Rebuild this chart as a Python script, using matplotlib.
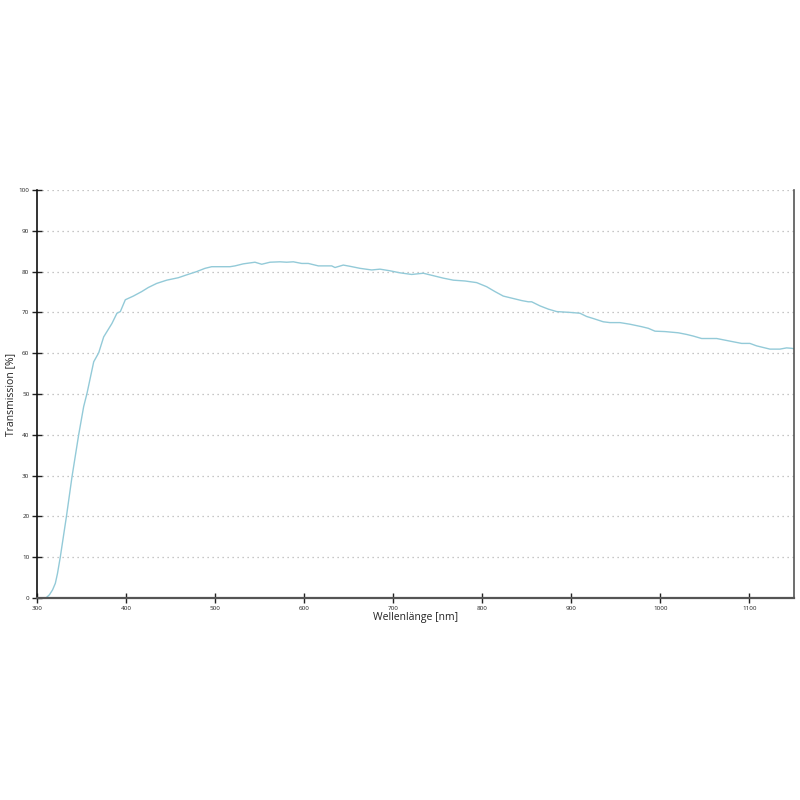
import matplotlib
matplotlib.use("Agg")
import matplotlib.pyplot as plt

wavelength = [300, 310, 314, 317.5, 320.6, 323, 326.2, 333, 339.3, 346.8, 352.4, 356.2, 363.7, 369.3, 374.9,
              384.2, 389.8, 393.6, 399.2, 408.2, 417.6, 425, 434.4, 445.7, 458.7, 468.1,
              479.3, 488.7, 496.2, 516.8, 522.4, 531.7, 544.8, 552.4, 561.7, 572.9, 580.4,
              587.9, 597.3, 604.7, 616, 631, 634.7, 644, 651.5, 662.8, 675.9, 685.2, 696.4,
              707.7, 720.8, 733.9, 745.1, 756.3, 767.6, 780.7, 793.8, 805, 814.4, 823.7,
              836.9, 844.4, 851.8, 855.6, 864.9, 874.3, 883.7, 898.6, 904.2, 909.8, 917.3,
              924.8, 936, 943.5, 954.8, 966, 979.1, 986.6, 994.1, 1005.3, 1020.3, 1029.6,
              1037.1, 1046.5, 1063.4, 1072.7, 1082, 1091.4, 1100.7, 1108.2, 1123.2, 1134.4,
              1141.9, 1147.5, 1150]
transmission = [0, 0, 0.8, 2.0, 3.6, 6.0, 10.1, 19.9, 29.7, 40, 46.9, 50.2, 57.9, 60.1, 64,
                67.3, 69.8, 70.2, 73.1, 74, 75.1, 76.1, 77.1, 77.9, 78.5, 79.2,
                80, 80.8, 81.2, 81.2, 81.4, 81.9, 82.3, 81.8, 82.3, 82.4, 82.3,
                82.4, 82, 82, 81.4, 81.4, 81, 81.6, 81.3, 80.8, 80.4, 80.6, 80.2,
                79.7, 79.3, 79.6, 79, 78.4, 77.9, 77.7, 77.3, 76.3, 75.1, 74,
                73.3, 72.9, 72.6, 72.6, 71.6, 70.8, 70.2, 70, 69.9, 69.8, 69,
                68.5, 67.7, 67.5, 67.5, 67.1, 66.5, 66.1, 65.4, 65.3, 65, 64.6,
                64.2, 63.6, 63.6, 63.2, 62.8, 62.4, 62.4, 61.8, 61, 61,
                61.3, 61.2, 61.1]
x_ticks = [300, 400, 500, 600, 700, 800, 900, 1000, 1100]
y_ticks = [0, 10, 20, 30, 40, 50, 60, 70, 80, 90, 100]

plt.rcParams['font.family'] = ['Open Sans', 'DejaVu Sans']

fig = plt.figure(figsize=(8, 8), dpi=100)
ax = fig.add_axes([0.04625, 0.2525, 0.946, 0.51])
ax.plot(wavelength, transmission, color='#93cad8', lw=1.0)

ax.set_xlim(300, 1150)
ax.set_ylim(0, 100)
ax.set_xticks(x_ticks)
ax.set_yticks(y_ticks)
ax.set_xticklabels([str(t) for t in x_ticks])
ax.set_yticklabels([str(t) for t in y_ticks])
ax.tick_params(axis='both', direction='inout', length=7, width=1, labelsize=4.5,
               colors='#222222', pad=2)

for y in y_ticks[1:]:
    ax.axhline(y, color='#b4b4b4', lw=0.9, ls=(0, (1, 3)), zorder=0)

ax.spines['top'].set_visible(False)
ax.spines['left'].set_color('#111111')
ax.spines['left'].set_linewidth(1.2)
ax.spines['bottom'].set_color('#555555')
ax.spines['bottom'].set_linewidth(1.6)
ax.spines['right'].set_color('#555555')
ax.spines['right'].set_linewidth(1.2)

ax.set_xlabel('Wellenlänge [nm]', fontsize=7.5, labelpad=1, color='#222222')
ax.set_ylabel('Transmission [%]', fontsize=7.5, labelpad=2, color='#222222')

fig.savefig('out.png', dpi=100, facecolor='white')
